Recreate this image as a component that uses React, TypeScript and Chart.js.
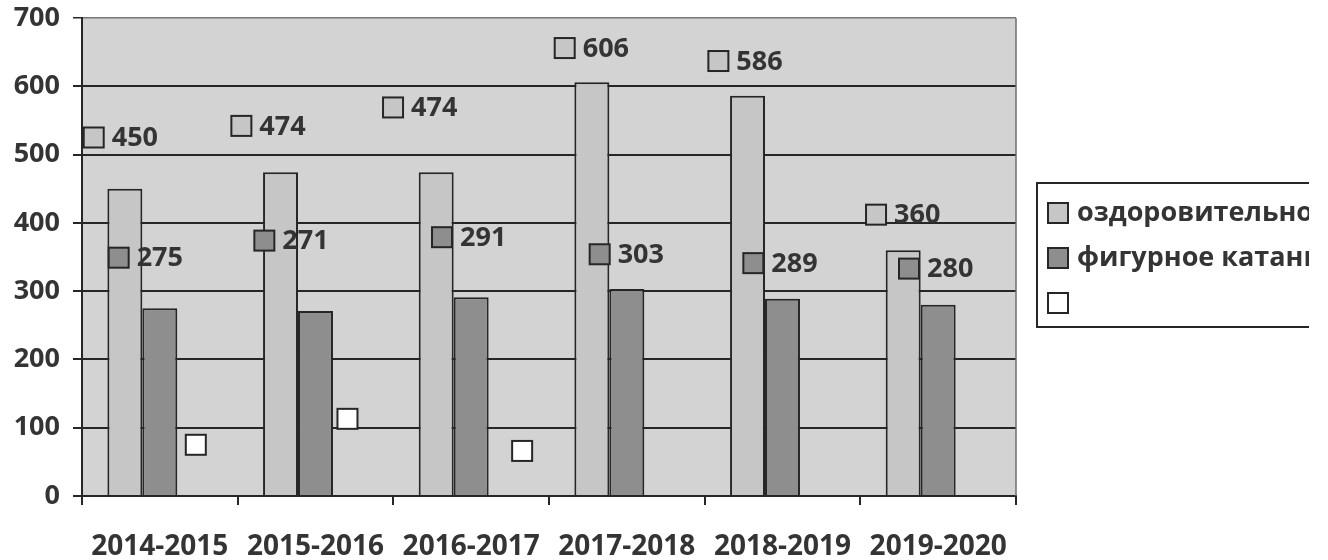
import React, { useEffect, useRef } from "react";
import { Chart, registerables } from "chart.js";

Chart.register(...registerables);

// ---------- data ----------
const categories = ["2014-2015", "2015-2016", "2016-2017", "2017-2018", "2018-2019", "2019-2020"];
const seriesNames = ["оздоровительное катание", "фигурное катание", ""];
const recreationalSkating = [450, 474, 474, 606, 586, 360];
const figureSkating = [275, 271, 291, 303, 289, 280];
const thirdSeries: (number | null)[] = [null, null, null, null, null, null];
const yMin = 0;
const yMax = 700;
const yStep = 100;

// data-label placement (in axis units), as moved by hand in the original
const recreationalLabelAt = [525, 542, 569, 656, 637, 412];
const figureLabelAt = [349, 374, 379, 354, 341, 333];
const thirdLabelAt: (number | null)[] = [75, 113, 66, null, null, null];
const recreationalLabelShift = [-4, -12, -16, 0, -2, 0];
const figureLabelShift = [-14, -24, -2, 0, -2, -2];
const thirdLabelShift = [1, -3, 16, 0, 0, 0];

// ---------- styles ----------
const FONT = '"Open Sans", "DejaVu Sans", sans-serif';
const TEXT = "#343434";
const LINE = "#262626";
const PLOT_BG = "#d3d3d3";
const COLORS = ["#c6c6c6", "#8e8e8e", "#ffffff"];

const plotPlugin = {
  id: "plotDecor",
  beforeDraw(chart: any) {
    const { ctx, chartArea } = chart;
    ctx.save();
    ctx.fillStyle = "#ffffff";
    ctx.fillRect(0, 0, chart.width, chart.height);
    ctx.fillStyle = PLOT_BG;
    ctx.fillRect(chartArea.left, chartArea.top, chartArea.right - chartArea.left, chartArea.bottom - chartArea.top);
    ctx.restore();
  },
  afterDraw(chart: any) {
    const { ctx, chartArea } = chart;
    ctx.save();
    // right border of plot area
    ctx.strokeStyle = "#6f6f6f";
    ctx.lineWidth = 1.5;
    ctx.beginPath();
    ctx.moveTo(chartArea.right, chartArea.top);
    ctx.lineTo(chartArea.right, chartArea.bottom);
    ctx.stroke();

    // data labels
    const yScale = chart.scales.y;
    const labelSets = [
      { at: recreationalLabelAt, shift: recreationalLabelShift, values: recreationalSkating, showText: true },
      { at: figureLabelAt, shift: figureLabelShift, values: figureSkating, showText: true },
      { at: thirdLabelAt, shift: thirdLabelShift, values: thirdSeries, showText: false },
    ];
    const metaRef = chart.getDatasetMeta(1);
    ctx.font = `bold 27px ${FONT}`;
    ctx.textBaseline = "middle";
    ctx.textAlign = "left";
    labelSets.forEach((set, di) => {
      set.at.forEach((v, j) => {
        if (v === null || v === undefined) return;
        const ref = metaRef.data[j];
        const w = ref.width;
        const bx = ref.x + (di - 1) * w;
        const cy = yScale.getPixelForValue(v);
        const txt = set.showText && set.values[j] !== null ? String(set.values[j]) : "";
        const tw = txt ? ctx.measureText(txt).width : 0;
        const total = 20 + (txt ? 8 + tw : 0);
        const left = bx - total / 2 + set.shift[j];
        ctx.fillStyle = COLORS[di];
        ctx.fillRect(left, cy - 10, 20, 20);
        ctx.strokeStyle = LINE;
        ctx.lineWidth = 2;
        ctx.strokeRect(left, cy - 10, 20, 20);
        if (txt) {
          ctx.fillStyle = TEXT;
          ctx.fillText(txt, left + 28, cy + 1);
        }
      });
    });

    // legend (clipped at the picture's right edge as in the original)
    const lx = 1037, ly = 183, lh = 144, clipR = 1309;
    ctx.beginPath();
    ctx.rect(lx - 2, ly - 2, clipR - lx + 2, lh + 4);
    ctx.clip();
    ctx.fillStyle = "#ffffff";
    ctx.fillRect(lx, ly, 400, lh);
    ctx.strokeStyle = LINE;
    ctx.lineWidth = 2;
    ctx.strokeRect(lx, ly, 400, lh);
    ctx.font = `bold 27px ${FONT}`;
    seriesNames.forEach((name, i) => {
      const cy = ly + 30 + i * 45;
      ctx.fillStyle = COLORS[i];
      ctx.fillRect(lx + 11, cy - 10, 20, 20);
      ctx.strokeStyle = LINE;
      ctx.lineWidth = 2;
      ctx.strokeRect(lx + 11, cy - 10, 20, 20);
      ctx.fillStyle = TEXT;
      ctx.fillText(name, lx + 40, cy);
    });
    ctx.restore();
  },
};

export default function App() {
  const canvasRef = useRef<HTMLCanvasElement | null>(null);

  useEffect(() => {
    let chart: Chart | null = null;
    let cancelled = false;
    const make = () => {
      if (cancelled || !canvasRef.current) return;
      chart = new Chart(canvasRef.current, {
        type: "bar",
        data: {
          labels: categories,
          datasets: [
            { label: seriesNames[0], data: recreationalSkating, backgroundColor: COLORS[0], borderColor: LINE, borderWidth: 2 },
            { label: seriesNames[1], data: figureSkating, backgroundColor: COLORS[1], borderColor: LINE, borderWidth: 2 },
            { label: seriesNames[2], data: thirdSeries as any, backgroundColor: COLORS[2], borderColor: LINE, borderWidth: 2 },
          ],
        },
        options: {
          responsive: false,
          animation: false,
          devicePixelRatio: 1,
          datasets: { bar: { categoryPercentage: 0.674, barPercentage: 1 } },
          layout: { padding: { left: 0, right: 312, top: 18, bottom: 0 } },
          plugins: { legend: { display: false }, tooltip: { enabled: false } },
          scales: {
            x: {
              offset: true,
              grid: { offset: true, drawOnChartArea: false, drawTicks: true, tickLength: 9, color: LINE, lineWidth: 2 },
              border: { display: true, color: LINE, width: 2 },
              ticks: { color: TEXT, font: { family: FONT, size: 28, weight: "bold" }, padding: 25, maxRotation: 0, autoSkip: false },
              afterFit: (s: any) => { s.height = 64; s.paddingLeft = 0; s.paddingRight = 0; },
            },
            y: {
              min: yMin,
              max: yMax,
              ticks: { stepSize: yStep, color: TEXT, font: { family: FONT, size: 27, weight: "bold" }, padding: 13 },
              grid: {
                color: (c: any) => (c.tick && c.tick.value === yMax ? "#777777" : LINE),
                lineWidth: (c: any) => (c.tick && c.tick.value === yMax ? 1.5 : 2),
                tickColor: LINE,
                tickLength: 9,
                drawTicks: true,
              },
              border: { display: true, color: LINE, width: 2 },
              afterFit: (s: any) => { s.width = 82; s.paddingTop = 0; s.paddingBottom = 0; },
            },
          },
        } as any,
        plugins: [plotPlugin],
      });
    };
    const fontsReady = (document as any).fonts
      ? Promise.all([
          (document as any).fonts.load(`bold 27px "Open Sans"`),
          (document as any).fonts.load(`bold 28px "Open Sans"`),
        ]).catch(() => null)
      : Promise.resolve(null);
    fontsReady.then(make);
    return () => {
      cancelled = true;
      if (chart) chart.destroy();
    };
  }, []);

  return (
    <div style={{ position: "fixed", left: 0, top: 0, width: 1328, height: 560, background: "#fff" }}>
      <canvas ref={canvasRef} width={1328} height={560} style={{ display: "block", width: 1328, height: 560 }} />
    </div>
  );
}
